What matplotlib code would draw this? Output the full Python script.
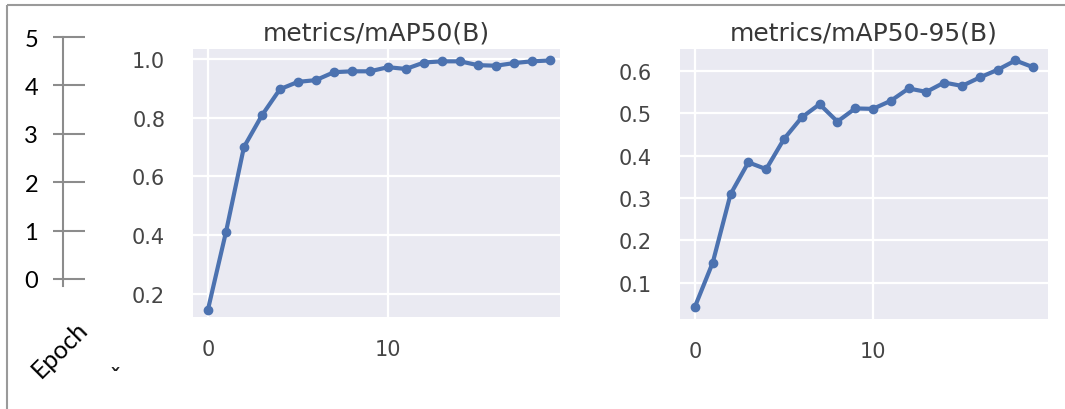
import numpy as np
import matplotlib
matplotlib.use('Agg')
import matplotlib.pyplot as plt
from matplotlib.lines import Line2D

#Data
epochs = list(range(20))
map50 = [0.146, 0.41, 0.70, 0.808, 0.897, 0.922, 0.928, 0.955, 0.958, 0.958,
         0.972, 0.966, 0.988, 0.992, 0.992, 0.979, 0.977, 0.986, 0.992, 0.995]
map50_95 = [0.044, 0.148, 0.309, 0.384, 0.368, 0.439, 0.490, 0.521, 0.480, 0.511,
            0.510, 0.529, 0.558, 0.550, 0.572, 0.564, 0.584, 0.602, 0.624, 0.608]
left_ticks = [0, 1, 2, 3, 4, 5]
titles = ['metrics/mAP50(B)', 'metrics/mAP50-95(B)']

W, H = 1065, 410
fig = plt.figure(figsize=(W / 100, H / 100), dpi=100)
fig.patch.set_facecolor('white')

def px_axes(x0, y0, x1, y1):
    # pixel box (top-left origin) -> figure axes
    return fig.add_axes([x0 / W, (H - y1) / H, (x1 - x0) / W, (y1 - y0) / H])

#--outer frame (top and left only)--
fig.add_artist(Line2D([7 / W, 1.0], [1 - 6 / H, 1 - 6 / H], color='#9a9a9a', lw=1.5,
                      solid_capstyle='butt'))
fig.add_artist(Line2D([7 / W, 7 / W], [0.0, 1 - 6 / H], color='#9a9a9a', lw=1.5,
                      solid_capstyle='butt'))

#--leftover axis with 0..5--
ax0 = px_axes(63, 38, 85, 287)
ax0.set_ylim(-0.145, 5)
ax0.set_xlim(0, 1)
ax0.set_yticks(left_ticks)
ax0.set_yticklabels([str(t) for t in left_ticks], fontsize=17, family='Lato', color='black')
ax0.tick_params(axis='y', length=0, pad=18)
ax0.set_xticks([])
for s in ['top', 'right', 'bottom']:
    ax0.spines[s].set_visible(False)
ax0.spines['left'].set_color('#8c8c8c')
ax0.spines['left'].set_linewidth(1.5)
ax0.patch.set_alpha(0)
ax0.hlines(left_ticks, -10 / 22, 1, transform=ax0.get_yaxis_transform(),
           color='#8c8c8c', lw=1.5, clip_on=False)

fig.text(60 / W, 1 - 350 / H, 'Epoch', rotation=45, ha='center', va='center',
         rotation_mode='anchor', fontsize=18, family='Lato', color='black')
fig.text(115 / W, 1 - 378 / H, 'ˇ', ha='center', va='center', fontsize=16,
         fontweight='bold', color='#222222')

#--the two metric plots--
boxes = [(193, 50, 560, 318), (680, 50, 1048, 320)]
series = [map50, map50_95]
xlims = [(-0.83, 19.56), (-0.84, 19.83)]
ylims = [(0.121, 1.034), (0.015, 0.651)]
yticks = [[0.2, 0.4, 0.6, 0.8, 1.0], [0.1, 0.2, 0.3, 0.4, 0.5, 0.6]]

for box, vals, xl, yl, yt, title in zip(boxes, series, xlims, ylims, yticks, titles):
    ax = px_axes(*box)
    ax.set_facecolor('#EAEAF2')
    ax.plot(epochs, vals, color='#4C72B0', lw=3, marker='o', ms=6)
    ax.set_xlim(*xl)
    ax.set_ylim(*yl)
    ax.set_xticks([0, 10])
    ax.set_yticks(yt)
    ax.set_yticklabels([f'{t:.1f}' for t in yt])
    ax.grid(True, color='white', lw=1.6)
    ax.set_axisbelow(True)
    for s in ax.spines.values():
        s.set_visible(False)
    ax.tick_params(axis='both', length=0, labelsize=15, labelcolor='#454545')
    ax.tick_params(axis='y', pad=20)
    ax.tick_params(axis='x', pad=16)
    ax.set_title(title, fontsize=18, color='#383838', pad=7)

fig.savefig('out.png', dpi=100)
